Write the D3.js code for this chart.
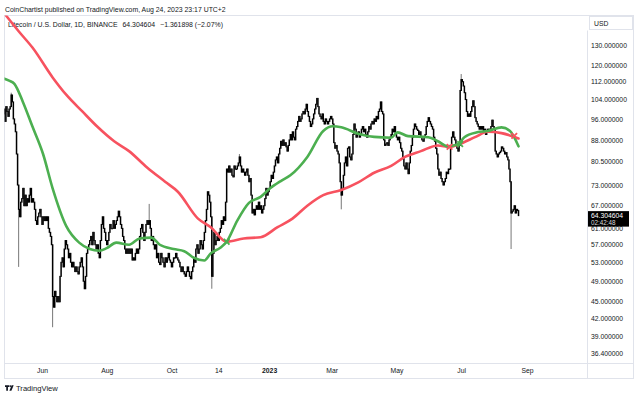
<!DOCTYPE html>
<html>
<head>
<meta charset="utf-8">
<script src="https://cdn.jsdelivr.net/npm/d3@7"></script>
<style>
  body { margin: 0; background: #fff; }
  svg { display: block; font-family: "Liberation Sans", Arial, sans-serif; }
</style>
</head>
<body>
<div id="chart"></div>
<script>
// daily closes, LTC/USD Binance
const startDay = "2022-04-26";
const firstOpen = 98;
const apr22 = [100, 95, 101, 99, 97];
const may22 = [100, 101, 106, 103, 96, 94, 91, 83, 73, 66, 64, 68, 69, 72, 67, 70, 67, 69, 68, 70, 72, 68, 69, 68, 66, 63, 62, 64, 65, 66, 64];
const jun22 = [62, 64, 63, 64, 63, 64, 61, 60, 59, 57, 46, 44, 47, 46, 45, 46, 45, 50, 53, 54, 52, 56, 58, 57, 56, 54, 55, 53, 52, 53];
const jul22 = [52, 51, 52, 51, 50.5, 52, 53, 54, 52, 49, 47.5, 50, 55, 56, 57, 58, 59, 57, 60, 58, 57, 56, 57, 55, 54, 58, 62, 64, 61, 60, 58];
const aug22 = [57, 58, 60, 62, 61, 61, 63, 61, 62, 63, 64, 65.5, 64, 62, 61, 59, 58, 56, 55, 56, 55, 56, 55, 56, 53.5, 54, 53.5, 55, 56, 55, 56];
const sep22 = [59, 61, 62, 60, 58, 60, 62, 63, 62, 63, 61, 58, 59, 57, 56, 57, 54, 55, 53, 52.5, 55, 54, 53, 52, 54, 53, 54, 55, 53.5, 53];
const oct22 = [52, 53, 54, 54, 55, 54, 53.5, 53, 52, 51, 52, 51, 50.5, 50, 51, 52, 51, 50, 49.5, 51, 52, 54, 53, 56, 57, 55, 56, 58, 57, 56, 58];
const nov22 = [60, 63, 66, 71, 70, 68, 64, 50, 55, 60, 57, 58, 59, 58, 60, 61, 63, 62, 64, 63, 68, 78, 77, 79, 77, 78, 76, 75.5, 79, 78];
const dec22 = [78, 79, 80, 82, 79, 77, 78, 77, 76, 77, 78, 76, 74, 75, 70, 65, 66, 64.5, 66, 67, 66, 68, 66, 67, 65, 66, 67, 69, 72, 70, 71];
const jan23 = [72, 74, 76, 75, 77, 79, 81, 82, 80, 83, 85, 87.5, 86, 88, 86, 87, 85.5, 84, 86, 88, 90, 88, 91, 89, 88, 92, 93, 95, 97, 95, 96];
const feb23 = [98, 99, 98, 100, 102, 99, 97, 95, 93, 94, 96, 98, 100, 102, 104.5, 101, 98, 97, 96, 98, 95, 94, 96, 95, 94, 95, 96, 97];
const mar23 = [96, 94, 87, 85, 86, 84, 83, 80, 74, 70, 72, 76, 80, 82, 79, 85, 85.5, 82, 81, 83, 90, 94, 92, 89, 90, 91, 89, 90, 92, 93, 91];
const apr23 = [92, 90, 89, 91, 93, 92, 94, 95, 94, 96, 95, 97, 96, 99, 100, 103, 99, 98, 88, 86, 86.5, 87, 86, 88, 89, 90, 92, 91, 93, 90];
const may23 = [89, 88, 89, 87, 85, 84, 82, 79, 78, 80, 78, 76.5, 80, 84, 86, 89, 92, 94, 93, 92, 91.5, 90, 91, 89, 88, 87.5, 89, 90, 93, 95, 96.5];
const jun23 = [95, 94, 93, 92, 89, 87.5, 85, 83, 78, 76, 77, 75, 74, 73, 74, 75, 77, 76.5, 78, 78, 86, 89, 91, 89, 88, 86, 85, 84, 86, 108];
const jul23 = [113, 112, 110, 107, 104, 99, 97, 98, 97, 99, 101, 103.5, 101, 96.5, 95, 94, 93, 92, 93, 92, 93, 91.5, 92, 90, 91, 92, 91, 92, 93, 95.5, 93];
const aug23 = [92, 84, 83, 82, 83, 83.5, 84, 85.5, 85, 84, 83, 83.5, 82, 81, 78, 74, 65, 65.5, 66, 67, 65, 66, 65.666502, 64.304604];

// long wicks that stand out
const wickLows = [["2022-05-10", 52], ["2022-06-11", 40.5], ["2022-11-08", 47.5], ["2023-03-10", 66], ["2023-08-17", 56]];
const wickHighs = [["2022-05-03", 107], ["2022-09-10", 67.5], ["2022-12-04", 83], ["2023-07-01", 115.6]];

// moving averages (green = short, red = long), sampled
const maShort = [["2022-04-26", 113.5], ["2022-05-01", 112.5], ["2022-05-06", 111], ["2022-05-14", 103], ["2022-05-23", 93],
  ["2022-06-02", 83], ["2022-06-11", 72], ["2022-06-24", 61.5], ["2022-07-06", 57.5], ["2022-07-16", 56], ["2022-07-25", 55.6],
  ["2022-08-01", 56.2], ["2022-08-10", 57.5], ["2022-08-22", 57], ["2022-09-01", 58.5], ["2022-09-12", 58.7], ["2022-09-20", 57],
  ["2022-10-03", 56], ["2022-10-13", 55.5], ["2022-10-22", 54], ["2022-11-01", 53.4], ["2022-11-07", 55], ["2022-11-16", 56.3],
  ["2022-11-22", 57.7], ["2022-12-02", 63], ["2022-12-13", 67.8], ["2022-12-24", 69.5], ["2023-01-02", 72], ["2023-01-12", 74.2],
  ["2023-01-21", 76], ["2023-02-06", 82], ["2023-02-21", 91.3], ["2023-03-02", 93.1], ["2023-03-10", 92.7], ["2023-03-26", 90.3],
  ["2023-04-10", 89.1], ["2023-04-26", 88.8], ["2023-05-02", 90.8], ["2023-05-12", 89.4], ["2023-05-31", 89], ["2023-06-09", 87.5],
  ["2023-06-18", 85.7], ["2023-06-28", 86.4], ["2023-07-04", 89], ["2023-07-16", 90.8], ["2023-07-26", 91.3], ["2023-08-08", 92.7],
  ["2023-08-16", 91.3], ["2023-08-24", 85.7]];
const maLong = [["2022-04-26", 149], ["2022-05-10", 138], ["2022-05-23", 129], ["2022-06-11", 114], ["2022-06-24", 106],
  ["2022-07-09", 99], ["2022-07-23", 93], ["2022-08-08", 87.5], ["2022-08-22", 84], ["2022-09-08", 78.5], ["2022-09-25", 74],
  ["2022-10-07", 71], ["2022-10-26", 63.5], ["2022-11-07", 61.3], ["2022-11-22", 57.7], ["2022-12-08", 58.5], ["2022-12-24", 58.8],
  ["2023-01-09", 61.3], ["2023-01-23", 63.5], ["2023-02-06", 67], ["2023-02-21", 70], ["2023-03-10", 71.5], ["2023-03-26", 73.8],
  ["2023-04-10", 76.8], ["2023-04-26", 79], ["2023-05-09", 82], ["2023-05-24", 84], ["2023-06-09", 86], ["2023-06-20", 85.5],
  ["2023-06-30", 86.6], ["2023-07-14", 89], ["2023-07-26", 91], ["2023-08-08", 90.5], ["2023-08-24", 88.5]];
const crosses = [["2022-11-22", 57.7, "short"], ["2023-06-20", 85.5, "long"], ["2023-06-30", 86.5, "short"], ["2023-08-20", 89.5, "long"]];

const yTicks = [130, 120, 112, 104, 96, 88, 80.5, 73, 67, 61, 57, 53, 49, 45, 42, 39, 36.4];
const xTickDates = ["2022-06-01", "2022-08-01", "2022-10-01", "2022-11-14", "2023-01-01", "2023-03-01", "2023-05-01", "2023-07-01", "2023-09-01"];
const xTickLabels = ["Jun", "Aug", "Oct", "14", "2023", "Mar", "May", "Jul", "Sep"];

const lastPrice = "64.304604";
const countdown = "02:42:48";

const W = 640, H = 398;
const pane = { left: 4.5, top: 15.5, right: 587.5, bottom: 363.5 };
const colShort = "#4caf50", colLong = "#f7525f", ink = "#131722", frame = "#e0e3eb";

const parse = d3.utcParse("%Y-%m-%d");
const fmt = d3.utcFormat("%Y-%m-%d");
const closes = [].concat(apr22, may22, jun22, jul22, aug22, sep22, oct22, nov22, dec22, jan23, feb23, mar23, apr23, may23, jun23, jul23, aug23);
const lowMap = new Map(wickLows);
const highMap = new Map(wickHighs);
const t0 = parse(startDay);
const candles = closes.map((c, i) => {
  const date = d3.utcDay.offset(t0, i);
  const key = fmt(date);
  const o = i ? closes[i - 1] : firstOpen;
  return {
    date, o, c,
    h: Math.max(o, c, highMap.get(key) || 0),
    l: Math.min(o, c, lowMap.get(key) || Infinity)
  };
});

const x = d3.scaleUtc()
  .domain([parse("2022-06-01"), parse("2023-09-01")])
  .range([42, 527]);
const y = d3.scaleLog()
  .domain([36.4, 130])
  .range([353, 45.7]);

const svg = d3.select("#chart").append("svg")
  .attr("width", W)
  .attr("height", H);

svg.append("rect").attr("width", W).attr("height", H).attr("fill", "#fff");

// header
svg.append("text")
  .attr("x", 5).attr("y", 11.5)
  .attr("font-size", 6.9).attr("fill", ink)
  .text("CoinChartist published on TradingView.com, Aug 24, 2023 23:17 UTC+2");

// frame
svg.append("rect")
  .attr("x", 4.5).attr("y", 15.5)
  .attr("width", 629).attr("height", 363)
  .attr("fill", "none").attr("stroke", frame);
svg.append("line")
  .attr("x1", pane.right).attr("x2", pane.right)
  .attr("y1", 30.5).attr("y2", 378.5)
  .attr("stroke", frame);
svg.append("line")
  .attr("x1", 4.5).attr("x2", 633.5)
  .attr("y1", pane.bottom).attr("y2", pane.bottom)
  .attr("stroke", frame);
svg.append("rect")
  .attr("x", 589.5).attr("y", 16.5)
  .attr("width", 43).attr("height", 13)
  .attr("fill", "#fff").attr("stroke", frame);
svg.append("text")
  .attr("x", 594).attr("y", 25.5)
  .attr("font-size", 6.8).attr("fill", ink)
  .text("USD");

// legend
const legend = svg.append("text")
  .attr("x", 8).attr("y", 26.5)
  .attr("font-size", 6.9).attr("fill", ink)
  .attr("xml:space", "preserve");
legend.append("tspan").text("Litecoin / U.S. Dollar, 1D, BINANCE");
legend.append("tspan").attr("dx", 5).text("64.304604");
legend.append("tspan").attr("dx", 5).text("\u22121.361898 (\u22122.07%)");

// pane
svg.append("clipPath").attr("id", "pane")
  .append("rect")
  .attr("x", pane.left).attr("y", pane.top)
  .attr("width", pane.right - pane.left).attr("height", pane.bottom - pane.top);
const g = svg.append("g").attr("clip-path", "url(#pane)");

const cg = g.append("g");
cg.selectAll(".wick")
  .data(candles.filter(d => d.h > Math.max(d.o, d.c) || d.l < Math.min(d.o, d.c)))
  .enter().append("line")
  .attr("class", "wick")
  .attr("x1", d => x(d.date)).attr("x2", d => x(d.date))
  .attr("y1", d => y(d.h)).attr("y2", d => y(d.l))
  .attr("stroke", "#777").attr("stroke-width", 1);
cg.selectAll(".body")
  .data(candles)
  .enter().append("rect")
  .attr("class", "body")
  .attr("x", d => x(d.date) - 0.75)
  .attr("width", 1.5)
  .attr("y", d => y(Math.max(d.o, d.c)) - 0.5)
  .attr("height", d => Math.max(1.5, y(Math.min(d.o, d.c)) - y(Math.max(d.o, d.c)) + 1))
  .attr("fill", "#000");

const line = d3.line()
  .x(d => x(parse(d[0])))
  .y(d => y(d[1]))
  .curve(d3.curveMonotoneX);

g.append("path").datum(maLong)
  .attr("d", line)
  .attr("fill", "none").attr("stroke", colLong)
  .attr("stroke-width", 2.6).attr("stroke-linecap", "round");
g.append("path").datum(maShort)
  .attr("d", line)
  .attr("fill", "none").attr("stroke", colShort)
  .attr("stroke-width", 2.6).attr("stroke-linecap", "round");

// cross markers
const cr = 2.8;
crosses.forEach(d => {
  const cx = x(parse(d[0])), cy = y(d[1]);
  g.append("path")
    .attr("d", `M${cx - cr},${cy - cr}L${cx + cr},${cy + cr}M${cx - cr},${cy + cr}L${cx + cr},${cy - cr}`)
    .attr("stroke", d[2] === "short" ? colShort : colLong)
    .attr("stroke-width", 1.8);
});

// price axis
const yAxis = svg.append("g")
  .attr("transform", `translate(${pane.right},0)`)
  .call(d3.axisRight(y).tickValues(yTicks).tickSize(0).tickPadding(3.5).tickFormat(d => d.toFixed(6)));
yAxis.select(".domain").remove();
yAxis.selectAll("text")
  .attr("font-size", 6.8)
  .attr("font-family", "Liberation Sans, Arial, sans-serif")
  .attr("fill", ink);

// last price label
const ly = y(closes[closes.length - 1]);
svg.append("rect")
  .attr("x", 588).attr("y", ly - 4.5)
  .attr("width", 41).attr("height", 15.5)
  .attr("fill", "#000");
svg.append("text")
  .attr("x", 591).attr("y", ly + 2.2)
  .attr("font-size", 6.8).attr("fill", "#fff")
  .text(lastPrice);
svg.append("text")
  .attr("x", 591).attr("y", ly + 9)
  .attr("font-size", 6.3).attr("fill", "#ddd")
  .text(countdown);

// time axis
const xAxis = svg.append("g")
  .attr("transform", `translate(0,${pane.bottom})`)
  .call(d3.axisBottom(x).tickValues(xTickDates.map(parse)).tickSize(0).tickPadding(5)
    .tickFormat((d, i) => xTickLabels[i]));
xAxis.select(".domain").remove();
xAxis.selectAll("text")
  .attr("font-size", 6.8)
  .attr("font-family", "Liberation Sans, Arial, sans-serif")
  .attr("fill", ink)
  .attr("font-weight", (d, i) => xTickLabels[i] === "2023" ? "bold" : null);

// footer logo
const logo = svg.append("g").attr("fill", ink);
logo.append("path").attr("d", "M5,385.2h4.2v1.7h-1.25v3.9h-1.7v-3.9h-1.25z");
logo.append("circle").attr("cx", 10.3).attr("cy", 386.1).attr("r", 0.9);
logo.append("path").attr("d", "M11.6,385.2h2.1l-2.3,5.6h-2z");
svg.append("text")
  .attr("x", 16).attr("y", 390.5)
  .attr("font-size", 7.6).attr("fill", ink)
  .text("TradingView");
</script>
</body>
</html>
